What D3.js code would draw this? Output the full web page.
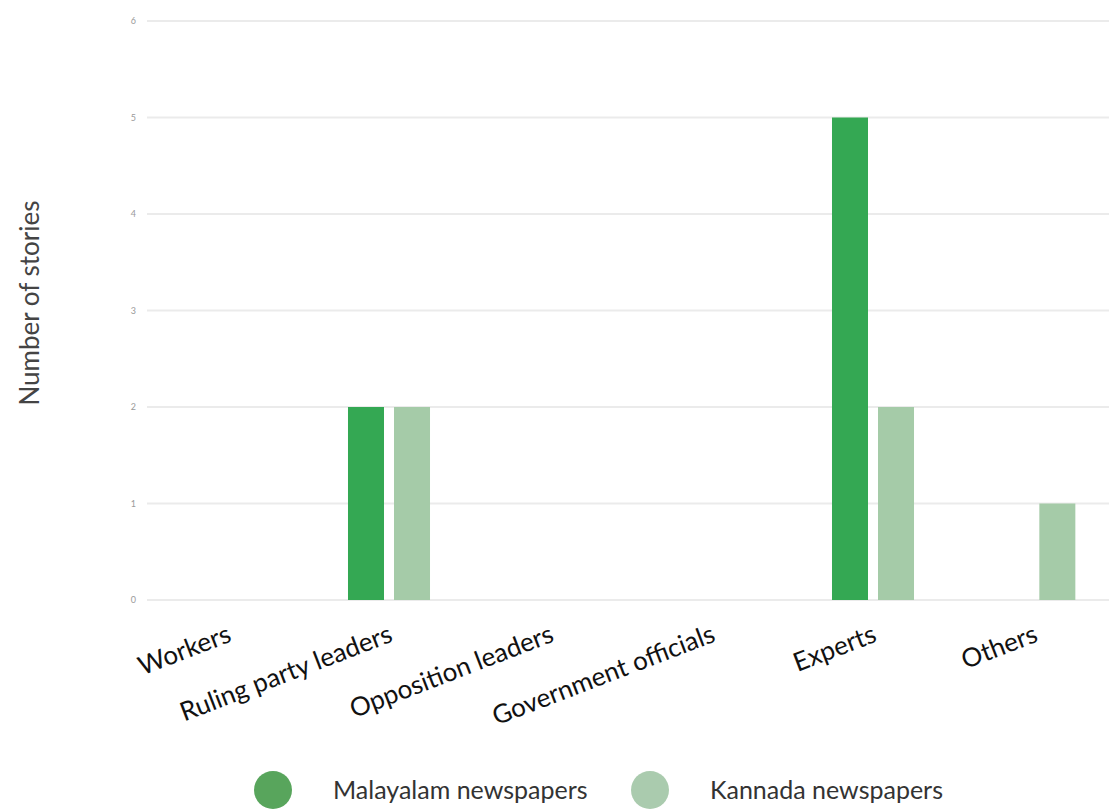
<!DOCTYPE html>
<html>
<head>
<meta charset="utf-8">
<script src="https://cdn.jsdelivr.net/npm/d3@7"></script>
<style>
  html, body { margin: 0; padding: 0; background: #fff; }
  svg { display: block; }
  text { font-family: Lato, "Open Sans", sans-serif; }
</style>
</head>
<body>
<svg id="chart" width="1109" height="810"></svg>
<script>
// Story counts by source type
const categories = ["Workers", "Ruling party leaders", "Opposition leaders", "Government officials", "Experts", "Others"];
const seriesNames = ["Malayalam newspapers", "Kannada newspapers"];
const malayalam = [0, 2, 0, 0, 5, 0];
const kannada = [0, 2, 0, 0, 2, 1];
const yTicks = [0, 1, 2, 3, 4, 5, 6];
const barColors = ["#34a853", "#a5cba8"];
const legendColors = ["#58a55c", "#aacbae"];

const svg = d3.select("#chart");
const plot = { left: 147, right: 1115, top: 21, bottom: 600 };

const x0 = d3.scaleBand().domain(categories).range([plot.left, plot.right]).padding(0);
const x1 = d3.scaleBand().domain(seriesNames).range([0, x0.bandwidth()])
  .paddingInner(0.2174).paddingOuter(0.862);
const y = d3.scaleLinear().domain([0, 6]).range([plot.bottom, plot.top]);

// horizontal gridlines
svg.append("g").selectAll("line").data(yTicks).join("line")
  .attr("x1", plot.left).attr("x2", 1109)
  .attr("y1", d => y(d)).attr("y2", d => y(d))
  .attr("stroke", "#ebebeb").attr("stroke-width", 2);

// y tick labels
const yAxis = d3.axisLeft(y).tickValues(yTicks).tickFormat(d3.format("d")).tickSize(0).tickPadding(0);
const ya = svg.append("g").attr("transform", `translate(136,0)`).call(yAxis);
ya.select(".domain").remove();
ya.selectAll("text").attr("font-size", 9).attr("fill", "#9a9a9a")
  .attr("font-family", "Lato, sans-serif");

// bars
const rows = categories.map((c, i) => ({ cat: c, vals: [malayalam[i], kannada[i]] }));
svg.append("g").selectAll("g").data(rows).join("g")
  .attr("transform", d => `translate(${x0(d.cat)},0)`)
  .selectAll("rect")
  .data(d => d.vals.map((v, j) => ({ s: seriesNames[j], v, j })).filter(e => e.v > 0))
  .join("rect")
  .attr("x", d => x1(d.s))
  .attr("width", x1.bandwidth())
  .attr("y", d => y(d.v))
  .attr("height", d => y(0) - y(d.v))
  .attr("fill", d => barColors[d.j]);

// x category labels
const xAxis = d3.axisBottom(x0).tickSize(0).tickPadding(0);
const xa = svg.append("g").attr("transform", `translate(0,${plot.bottom})`).call(xAxis);
xa.select(".domain").remove();
xa.selectAll("text")
  .attr("font-size", 26).attr("fill", "#111").attr("font-family", "Lato, sans-serif")
  .attr("text-anchor", "end")
  .attr("y", 0).attr("dy", 0)
  .attr("transform", "translate(5,41) rotate(-21)");

// y axis title
svg.append("text")
  .attr("transform", "translate(39,303) rotate(-90)")
  .attr("text-anchor", "middle")
  .attr("font-size", 26).attr("fill", "#444")
  .text("Number of stories");

// legend
const legendX = [273, 650];
const lg = svg.append("g").selectAll("g").data(seriesNames).join("g")
  .attr("transform", (d, i) => `translate(${legendX[i]},790)`);
lg.append("circle").attr("r", 19).attr("fill", (d, i) => legendColors[i]);
lg.append("text").attr("x", 60).attr("y", 9)
  .attr("font-size", 25).attr("fill", "#333").text(d => d);
</script>
</body>
</html>
